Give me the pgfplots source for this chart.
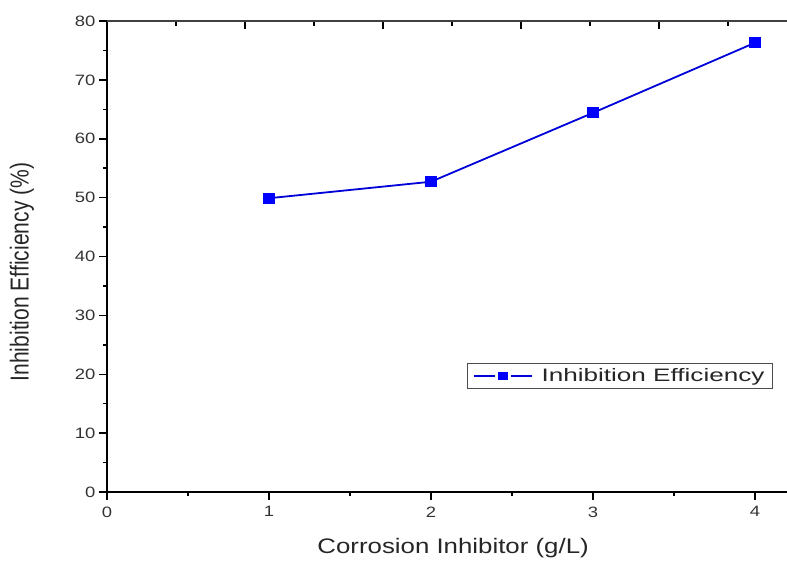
\documentclass[border=0pt]{standalone}
\usepackage{fontspec}
\setmainfont[FakeStretch=1.23]{Liberation Sans}
\newfontfamily\ylabfont[FakeStretch=0.81]{Liberation Sans}
\newfontfamily\legfont[FakeStretch=1.45]{Liberation Sans}
\usepackage{pgfplots}
\pgfplotsset{compat=1.18}
\usetikzlibrary{calc}

\begin{document}
\begin{tikzpicture}
\begin{axis}[
    scale only axis, width=680pt, height=471pt,
    xmin=0, xmax=4.198, ymin=0, ymax=80,
    axis x line*=bottom, axis y line*=left,
    xtick={0,1,2,3,4}, minor xtick={0.5,1.5,2.5,3.5},
    ytick={0,10,...,80}, minor ytick={5,15,...,75},
    tick align=outside,
    major tick length=8pt, minor tick length=4pt,
    every tick/.style={black, line width=1.5pt},
    axis line style={black, line width=2pt},
    ticklabel style={font=\fontsize{15}{18}\selectfont, text=black!80},
    xticklabel style={yshift=-3pt},
    /pgf/number format/assume math mode=true,
    xlabel={\fontsize{21}{24}\selectfont Corrosion Inhibitor (g/L)},
    xlabel style={at={(axis description cs:0.509,-0.119)}, anchor=center, text=black!85},
    ylabel={\fontsize{26}{28}\ylabfont Inhibition Efficiency (\%)},
    ylabel style={at={(axis description cs:-0.125,0.467)}, anchor=center, text=black!85},
    legend style={at={(0.529,0.219)}, anchor=south west, draw=black!70, line width=1pt,
        font=\fontsize{18}{20}\legfont, inner xsep=6pt, inner ysep=3pt, text=black!85,
        /tikz/every odd column/.append style={column sep=7pt}},
    legend cell align=left,
    legend image code/.code={
        \draw[#1, line width=1.3pt] (0pt,0pt) -- (21pt,0pt);
        \draw[#1, line width=1.3pt] (37pt,0pt) -- (58pt,0pt);
        \draw[#1, mark size=3.5pt] plot coordinates {(29pt,0pt)};},
]
\addplot[blue!85!black, line width=1.8pt, mark=square*, mark size=4.5pt,
    mark options={xscale=1.2, fill=blue, draw=blue}]
    coordinates {(1,49.9) (2,52.7) (3,64.4) (4,76.3)};
\addlegendentry{Inhibition Efficiency}
\end{axis}
\begin{axis}[
    scale only axis, width=680pt, height=471pt,
    xmin=0, xmax=9.855, ymin=0, ymax=1,
    axis x line*=top, axis y line=none,
    xtick={2,4,6,8}, minor xtick={1,3,5,7,9}, xticklabels={},
    tick align=inside,
    major tick length=8pt, minor tick length=5pt,
    every tick/.style={black, line width=1.5pt},
    axis line style={black!75, line width=2pt},
]
\end{axis}
\pgfresetboundingbox
\path ($(current axis.south west)+(-107pt,-68pt)$) rectangle ($(current axis.north east)+(0pt,21pt)$);
\end{tikzpicture}
\end{document}
